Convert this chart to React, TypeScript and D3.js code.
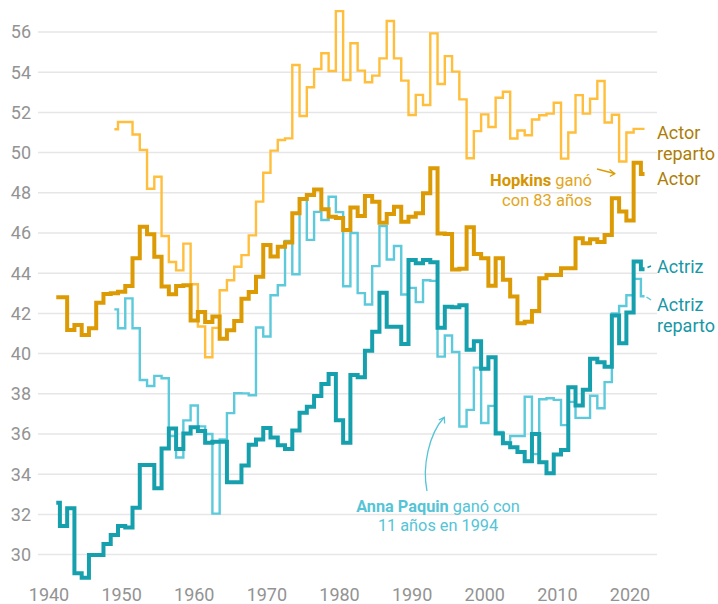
import * as d3 from 'd3';

// edades medias de los ganadores del Oscar, una por año
const actorStart = 1941;
const actor = [
  42.8, 42.8, 41.17, 41.42, 40.92, 41.26, 42.53, 42.96, 43.0, 43.08,
  43.36, 44.74, 46.31, 45.94, 44.82, 43.34, 42.95, 43.36, 43.4, 41.65,
  42.07, 41.57, 41.85, 40.74, 41.16, 41.62, 42.73, 43.06, 43.82, 45.4,
  44.83, 45.31, 45.53, 46.98, 47.69, 47.89, 48.17, 47.18, 46.81, 46.75,
  46.15, 47.27, 46.85, 47.84, 47.56, 46.51, 46.94, 47.3, 46.56, 46.81,
  46.98, 47.98, 49.22, 45.98, 45.95, 44.19, 44.22, 46.28, 44.95, 44.74,
  43.38, 44.74, 43.67, 42.84, 41.51, 41.59, 42.12, 43.75, 43.91, 43.91,
  44.25, 44.25, 45.74, 45.49, 45.69, 45.55, 45.9, 47.73, 47.07, 46.62,
  49.5, 48.94,
];

const actrizStart = 1941;
const actriz = [
  32.58, 31.42, 32.3, 29.07, 28.85, 29.98, 29.98, 30.53, 30.97, 31.42,
  31.35, 32.33, 34.46, 34.46, 33.3, 35.28, 36.27, 35.25, 36.02, 36.33,
  36.15, 35.56, 35.62, 35.62, 33.6, 33.6, 34.43, 35.47, 35.73, 36.3,
  35.82, 35.44, 35.25, 36.17, 37.06, 37.36, 37.89, 38.49, 38.98, 36.69,
  35.57, 38.94, 38.82, 40.14, 41.09, 43.03, 41.34, 41.34, 40.48, 44.66,
  44.5, 44.66, 44.55, 41.28, 42.33, 42.3, 42.4, 40.19, 40.62, 39.25,
  39.82, 36.03, 35.54, 35.34, 35.1, 34.65, 36.0, 34.6, 34.05, 34.98,
  35.21, 38.33, 37.42, 38.2, 39.74, 39.57, 39.35, 41.89, 40.51, 42.05,
  44.58, 44.2,
];

const actorRepartoStart = 1949;
const actorReparto = [
  51.16, 51.52,
  51.52, 50.9, 50.13, 48.2, 48.8, 45.85, 44.56, 44.14, 45.47, 43.45,
  41.35, 39.82, 41.28, 43.15, 43.65, 44.32, 44.9, 45.88, 47.56, 49.0,
  50.1, 50.63, 50.71, 54.36, 51.82, 53.25, 54.16, 54.94, 54.06, 57.04,
  53.61, 55.44, 54.08, 53.5, 53.83, 54.69, 56.55, 54.69, 53.58, 51.87,
  52.87, 52.37, 55.93, 53.41, 54.8, 54.03, 52.65, 49.72, 51.07, 51.9,
  51.27, 52.73, 53.03, 50.7, 51.1, 50.86, 51.65, 51.86, 51.94, 52.48,
  49.7, 51.0, 52.86, 51.94, 52.68, 53.56, 51.5, 51.88, 49.56, 51.0,
  51.18, 51.18,
];

const actrizRepartoStart = 1949;
const actrizReparto = [
  42.2, 41.26,
  42.75, 41.26, 38.69, 38.39, 38.89, 38.77, 35.9, 34.83, 36.68, 37.42,
  36.38, 36.0, 32.04, 35.73, 37.04, 38.03, 38.02, 37.93, 41.3, 40.85,
  42.9, 43.4, 45.6, 43.95, 47.65, 45.66, 47.05, 46.65, 47.8, 47.04,
  43.35, 46.0, 43.01, 42.44, 44.35, 46.34, 44.68, 45.35, 42.94, 43.27,
  42.56, 43.65, 43.62, 39.85, 40.9, 40.08, 36.37, 37.2, 39.3, 36.55,
  37.4, 36.1, 35.6, 35.9, 35.9, 37.85, 35.0, 37.73, 37.78, 37.7,
  36.44, 37.6, 36.8, 36.8, 37.9, 37.28, 38.58, 42.0, 42.37, 42.9,
  43.72, 42.85,
];

const yTicks = [30, 32, 34, 36, 38, 40, 42, 44, 46, 48, 50, 52, 54, 56];
const xTicks = [1940, 1950, 1960, 1970, 1980, 1990, 2000, 2010, 2020];

const FONT = "Roboto, 'Noto Sans', sans-serif";

const x = d3.scaleLinear().domain([1940, 2020]).range([49, 630]);
const y = d3.scaleLinear().domain([30, 56]).range([554.6, 32]);

const line = d3
  .line<[number, number]>()
  .x(d => x(d[0]))
  .y(d => y(d[1]))
  .curve(d3.curveStep);

const pts = (start: number, vals: number[]): [number, number][] =>
  vals.map((v, i) => [start + i, v]);

const series = [
  { key: 'actorReparto', data: pts(actorRepartoStart, actorReparto), color: '#ffbf3c', width: 2.4 },
  { key: 'actrizReparto', data: pts(actrizRepartoStart, actrizReparto), color: '#5ccadb', width: 2.4 },
  { key: 'actor', data: pts(actorStart, actor), color: '#dc9b04', width: 4 },
  { key: 'actriz', data: pts(actrizStart, actriz), color: '#169fad', width: 4 },
];

export default function App() {
  const gold = '#ad7d06';
  const teal = '#1897a6';
  return (
    <svg width={718} height={604} style={{ position: 'absolute', left: 0, top: 0 }} fontFamily={FONT}>
      <rect width={718} height={604} fill="#fff" />
      {yTicks.map(t => (
        <g key={t}>
          <line x1={38} x2={657} y1={y(t)} y2={y(t)} stroke="#e6e6e6" strokeWidth={1.5} />
          <text x={31} y={y(t)} dy="0.35em" textAnchor="end" fontSize={18} fill="#939393">{t}</text>
        </g>
      ))}
      {xTicks.map(t => (
        <text key={t} x={x(t)} y={601} textAnchor="middle" fontSize={18} fill="#939393">{t}</text>
      ))}

      {series.map(s => (
        <path key={s.key} d={line(s.data) ?? ''} fill="none" stroke={s.color} strokeWidth={s.width} />
      ))}

      {/* conectores a las etiquetas */}
      <line x1={647.5} y1={267.5} x2={651} y2={266} stroke={teal} strokeWidth={1.5} />
      <line x1={646.5} y1={297} x2={651} y2={300} stroke="#5ccadb" strokeWidth={1.5} />

      {/* etiquetas de serie */}
      <g fontSize={18} fill={gold}>
        <text x={657} y={139}>Actor</text>
        <text x={657} y={160}>reparto</text>
        <text x={657} y={185}>Actor</text>
      </g>
      <g fontSize={18} fill={teal}>
        <text x={657} y={273}>Actriz</text>
        <text x={657} y={311}>Actriz</text>
        <text x={657} y={332}>reparto</text>
      </g>

      {/* Hopkins */}
      <g fontSize={16.5} textAnchor="end">
        <text x={592} y={186}>
          <tspan fontWeight={700} fill="#d69500">Hopkins</tspan>
          <tspan fill="#e2a622"> ganó</tspan>
        </text>
        <text x={592} y={206}>
          <tspan fill="#e2a622">con 83 años</tspan>
        </text>
      </g>
      <path d="M597,169 L614.5,173.5" stroke="#dc9b04" strokeWidth={1.3} fill="none" />
      <path d="M609.5,169.5 L614.8,173.6 L609.8,176.5" stroke="#dc9b04" strokeWidth={1.3} fill="none" />

      {/* Anna Paquin */}
      <g fontSize={16.3} textAnchor="middle" fill="#55c4d6">
        <text x={438} y={512}>
          <tspan fontWeight={700}>Anna Paquin</tspan>
          <tspan> ganó con</tspan>
        </text>
        <text x={438} y={531}>11 años en 1994</text>
      </g>
      <path d="M427,491 C422,466 429,434 444,417.5" stroke="#55c4d6" strokeWidth={1.3} fill="none" />
      <path d="M438.8,420 L444.3,417.3 L444.6,423.5" stroke="#55c4d6" strokeWidth={1.3} fill="none" />
    </svg>
  );
}
